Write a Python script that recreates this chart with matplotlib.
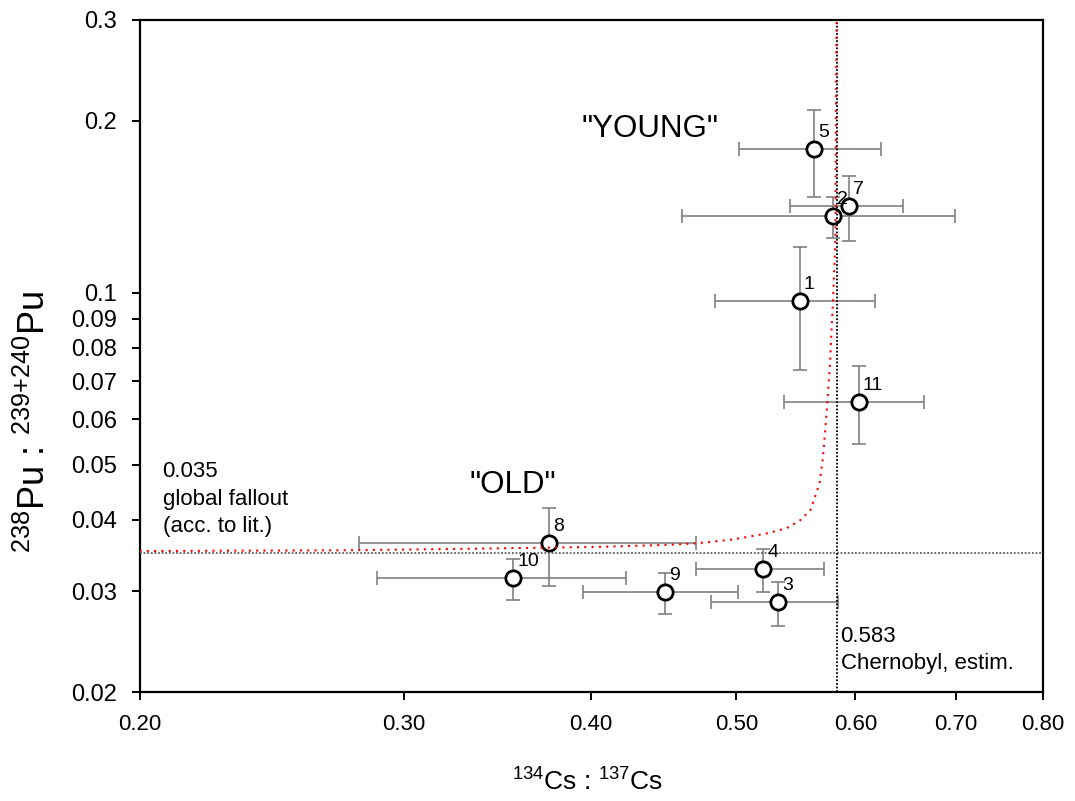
import numpy as np
import matplotlib
matplotlib.use("Agg")
import matplotlib.pyplot as plt
from matplotlib.ticker import FixedLocator, FixedFormatter, NullLocator

plt.rcParams['font.family'] = ['Liberation Sans', 'DejaVu Sans']
plt.rcParams['mathtext.fontset'] = 'custom'
plt.rcParams['mathtext.rm'] = 'Liberation Sans'

samples = ["1", "2", "3", "4", "5", "7", "8", "9", "10", "11"]
cs_ratio = [0.551, 0.580, 0.533, 0.521, 0.563, 0.594, 0.375, 0.448, 0.355, 0.603]
cs_lo = [0.484, 0.460, 0.481, 0.470, 0.502, 0.543, 0.280, 0.395, 0.288, 0.538]
cs_hi = [0.618, 0.699, 0.584, 0.572, 0.624, 0.646, 0.470, 0.501, 0.422, 0.667]
pu_ratio = [0.0967, 0.1363, 0.0287, 0.0328, 0.1782, 0.1418, 0.0364, 0.0299, 0.0316, 0.0644]
pu_lo = [0.0731, 0.1245, 0.0261, 0.0299, 0.1472, 0.1233, 0.0307, 0.0274, 0.0290, 0.0543]
pu_hi = [0.1203, 0.1472, 0.0312, 0.0356, 0.2087, 0.1600, 0.0419, 0.0323, 0.0342, 0.0745]

# Mischungskurve (rot gepunktet)
mix_cs = [0.200, 0.272, 0.327, 0.406, 0.452, 0.470, 0.498, 0.524, 0.540, 0.551,
          0.560, 0.564, 0.568, 0.571, 0.573, 0.575, 0.577, 0.580, 0.582, 0.5825, 0.583]
mix_pu = [0.0353, 0.0354, 0.0356, 0.0359, 0.0362, 0.0364, 0.0370, 0.0379, 0.0387, 0.0399,
          0.0416, 0.0439, 0.0464, 0.0516, 0.0575, 0.0649, 0.0742, 0.0984, 0.1236, 0.2173, 0.300]

global_fallout = 0.035
chernobyl = 0.583

xticks = [0.2, 0.3, 0.4, 0.5, 0.6, 0.7, 0.8]
xticklabels = ["0.20", "0.30", "0.40", "0.50", "0.60", "0.70", "0.80"]
yticks = [0.02, 0.03, 0.04, 0.05, 0.06, 0.07, 0.08, 0.09, 0.1, 0.2, 0.3]
yticklabels = ["0.02", "0.03", "0.04", "0.05", "0.06", "0.07", "0.08", "0.09", "0.1", "0.2", "0.3"]

# --- Plot ---
fig = plt.figure(figsize=(10.75, 8.01), dpi=100)
ax = fig.add_axes([139.5 / 1075, 1 - 692 / 801, 903.2 / 1075, 672 / 801])
ax.set_xscale('log')
ax.set_yscale('log')

x = np.array(cs_ratio)
y = np.array(pu_ratio)
xerr = [x - np.array(cs_lo), np.array(cs_hi) - x]
yerr = [y - np.array(pu_lo), np.array(pu_hi) - y]
ax.errorbar(x, y, xerr=xerr, yerr=yerr, fmt='none', ecolor='#808080',
            elinewidth=1.2, capsize=4.7, capthick=1.2, zorder=2)
ax.plot(x, y, 'o', ms=11, mfc='white', mec='black', mew=2, zorder=3)

for s, xi, yi in zip(samples, cs_ratio, pu_ratio):
    ax.annotate(s, (xi, yi), xytext=(4, 12), textcoords='offset pixels',
                ha='left', va='baseline', fontsize=14, zorder=5)

# Referenzlinien
ax.axhline(global_fallout, color='#606060', lw=1.3, ls=(0, (1, 1)), zorder=4)
ax.axvline(chernobyl, color='black', lw=1.3, ls=(0, (1, 1)), zorder=4)
ax.plot(mix_cs, mix_pu, color='red', lw=1.5, ls=(0, (1, 2.5)), zorder=4)

ax.text(0.4379, 0.1875, '"YOUNG"', ha='center', va='baseline', fontsize=22.5)
ax.text(0.3548, 0.04454, '"OLD"', ha='center', va='baseline', fontsize=22.5)
ax.annotate('0.035\nglobal fallout\n(acc. to lit.)', (0.2, global_fallout),
            xytext=(23, 92), textcoords='offset pixels', ha='left', va='top',
            fontsize=16, linespacing=1.4)
ax.annotate('0.583\nChernobyl, estim.', (chernobyl, 0), xycoords=('data', 'axes fraction'),
            xytext=(4, 18), textcoords='offset pixels', ha='left', va='bottom',
            fontsize=16, linespacing=1.4)

ax.set_xlim(0.2, 0.8)
ax.set_ylim(0.02, 0.3)
ax.xaxis.set_major_locator(FixedLocator(xticks))
ax.xaxis.set_major_formatter(FixedFormatter(xticklabels))
ax.xaxis.set_minor_locator(NullLocator())
ax.yaxis.set_major_locator(FixedLocator(yticks))
ax.yaxis.set_major_formatter(FixedFormatter(yticklabels))
ax.yaxis.set_minor_locator(NullLocator())

ax.tick_params(axis='both', direction='out', length=5.5, width=1.4, pad=10.5,
               labelsize=17, top=False, right=False)
ax.tick_params(axis='x', labelsize=16)
for sp in ax.spines.values():
    sp.set_linewidth(1.6)

fig.text(45 / 1075, 1 - 422 / 801, r'$^{238}$Pu : $^{239{+}240}$Pu', rotation=90,
         rotation_mode='anchor', ha='center', va='baseline', fontsize=26)
fig.text(588 / 1075, 1 - 790 / 801, r'$^{134}$Cs : $^{137}$Cs',
         ha='center', va='baseline', fontsize=19)

fig.savefig('out.png', dpi=100)
